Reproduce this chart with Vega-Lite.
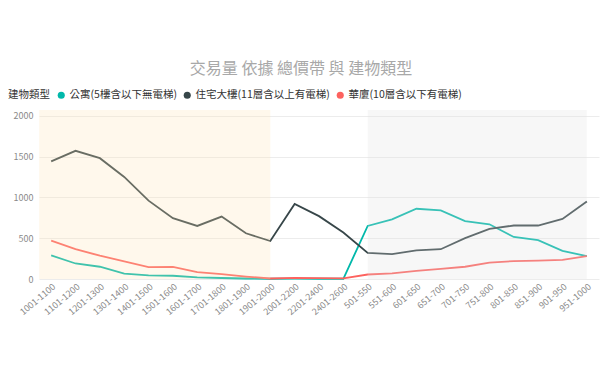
{
  "$schema": "https://vega.github.io/schema/vega-lite/v6.json",
  "autosize": {"type": "none"},
  "width": 560,
  "height": 169,
  "padding": {"left": 39, "top": 110, "right": 1, "bottom": 95},
  "background": "white",
  "title": {
    "text": "交易量 依據 總價帶 與 建物類型",
    "font": "Noto Sans CJK TC",
    "fontSize": 16,
    "fontWeight": "normal",
    "color": "#a8a8a8",
    "anchor": "middle",
    "dx": -18,
    "offset": 13
  },
  "config": {
    "view": {"stroke": null},
    "font": "Noto Sans CJK TC",
    "axis": {"labelFont": "Noto Sans CJK TC"},
    "legend": {"labelFont": "Noto Sans CJK TC", "titleFont": "Noto Sans CJK TC"}
  },
  "datasets": {
    "main": [
      {"p": "1001-1100", "t": "公寓(5樓含以下無電梯)", "v": 290},
      {"p": "1101-1200", "t": "公寓(5樓含以下無電梯)", "v": 190},
      {"p": "1201-1300", "t": "公寓(5樓含以下無電梯)", "v": 150},
      {"p": "1301-1400", "t": "公寓(5樓含以下無電梯)", "v": 65},
      {"p": "1401-1500", "t": "公寓(5樓含以下無電梯)", "v": 45},
      {"p": "1501-1600", "t": "公寓(5樓含以下無電梯)", "v": 40},
      {"p": "1601-1700", "t": "公寓(5樓含以下無電梯)", "v": 20},
      {"p": "1701-1800", "t": "公寓(5樓含以下無電梯)", "v": 12},
      {"p": "1801-1900", "t": "公寓(5樓含以下無電梯)", "v": 6},
      {"p": "1901-2000", "t": "公寓(5樓含以下無電梯)", "v": 3},
      {"p": "2001-2200", "t": "公寓(5樓含以下無電梯)", "v": 4},
      {"p": "2201-2400", "t": "公寓(5樓含以下無電梯)", "v": 3},
      {"p": "2401-2600", "t": "公寓(5樓含以下無電梯)", "v": 3},
      {"p": "501-550", "t": "公寓(5樓含以下無電梯)", "v": 650},
      {"p": "551-600", "t": "公寓(5樓含以下無電梯)", "v": 730},
      {"p": "601-650", "t": "公寓(5樓含以下無電梯)", "v": 860},
      {"p": "651-700", "t": "公寓(5樓含以下無電梯)", "v": 840},
      {"p": "701-750", "t": "公寓(5樓含以下無電梯)", "v": 710},
      {"p": "751-800", "t": "公寓(5樓含以下無電梯)", "v": 670},
      {"p": "801-850", "t": "公寓(5樓含以下無電梯)", "v": 515},
      {"p": "851-900", "t": "公寓(5樓含以下無電梯)", "v": 475},
      {"p": "901-950", "t": "公寓(5樓含以下無電梯)", "v": 345},
      {"p": "951-1000", "t": "公寓(5樓含以下無電梯)", "v": 280},
      {"p": "1001-1100", "t": "住宅大樓(11層含以上有電梯)", "v": 1440},
      {"p": "1101-1200", "t": "住宅大樓(11層含以上有電梯)", "v": 1570},
      {"p": "1201-1300", "t": "住宅大樓(11層含以上有電梯)", "v": 1480},
      {"p": "1301-1400", "t": "住宅大樓(11層含以上有電梯)", "v": 1250},
      {"p": "1401-1500", "t": "住宅大樓(11層含以上有電梯)", "v": 960},
      {"p": "1501-1600", "t": "住宅大樓(11層含以上有電梯)", "v": 745},
      {"p": "1601-1700", "t": "住宅大樓(11層含以上有電梯)", "v": 650},
      {"p": "1701-1800", "t": "住宅大樓(11層含以上有電梯)", "v": 765},
      {"p": "1801-1900", "t": "住宅大樓(11層含以上有電梯)", "v": 560},
      {"p": "1901-2000", "t": "住宅大樓(11層含以上有電梯)", "v": 465},
      {"p": "2001-2200", "t": "住宅大樓(11層含以上有電梯)", "v": 920},
      {"p": "2201-2400", "t": "住宅大樓(11層含以上有電梯)", "v": 770},
      {"p": "2401-2600", "t": "住宅大樓(11層含以上有電梯)", "v": 570},
      {"p": "501-550", "t": "住宅大樓(11層含以上有電梯)", "v": 320},
      {"p": "551-600", "t": "住宅大樓(11層含以上有電梯)", "v": 305},
      {"p": "601-650", "t": "住宅大樓(11層含以上有電梯)", "v": 350},
      {"p": "651-700", "t": "住宅大樓(11層含以上有電梯)", "v": 365},
      {"p": "701-750", "t": "住宅大樓(11層含以上有電梯)", "v": 500},
      {"p": "751-800", "t": "住宅大樓(11層含以上有電梯)", "v": 615},
      {"p": "801-850", "t": "住宅大樓(11層含以上有電梯)", "v": 655},
      {"p": "851-900", "t": "住宅大樓(11層含以上有電梯)", "v": 655},
      {"p": "901-950", "t": "住宅大樓(11層含以上有電梯)", "v": 735},
      {"p": "951-1000", "t": "住宅大樓(11層含以上有電梯)", "v": 950},
      {"p": "1001-1100", "t": "華廈(10層含以下有電梯)", "v": 470},
      {"p": "1101-1200", "t": "華廈(10層含以下有電梯)", "v": 365},
      {"p": "1201-1300", "t": "華廈(10層含以下有電梯)", "v": 285},
      {"p": "1301-1400", "t": "華廈(10層含以下有電梯)", "v": 215},
      {"p": "1401-1500", "t": "華廈(10層含以下有電梯)", "v": 145},
      {"p": "1501-1600", "t": "華廈(10層含以下有電梯)", "v": 148},
      {"p": "1601-1700", "t": "華廈(10層含以下有電梯)", "v": 85},
      {"p": "1701-1800", "t": "華廈(10層含以下有電梯)", "v": 60},
      {"p": "1801-1900", "t": "華廈(10層含以下有電梯)", "v": 30},
      {"p": "1901-2000", "t": "華廈(10層含以下有電梯)", "v": 6},
      {"p": "2001-2200", "t": "華廈(10層含以下有電梯)", "v": 14},
      {"p": "2201-2400", "t": "華廈(10層含以下有電梯)", "v": 10},
      {"p": "2401-2600", "t": "華廈(10層含以下有電梯)", "v": 8},
      {"p": "501-550", "t": "華廈(10層含以下有電梯)", "v": 55},
      {"p": "551-600", "t": "華廈(10層含以下有電梯)", "v": 70},
      {"p": "601-650", "t": "華廈(10層含以下有電梯)", "v": 100},
      {"p": "651-700", "t": "華廈(10層含以下有電梯)", "v": 125},
      {"p": "701-750", "t": "華廈(10層含以下有電梯)", "v": 150},
      {"p": "751-800", "t": "華廈(10層含以下有電梯)", "v": 200},
      {"p": "801-850", "t": "華廈(10層含以下有電梯)", "v": 220},
      {"p": "851-900", "t": "華廈(10層含以下有電梯)", "v": 225},
      {"p": "901-950", "t": "華廈(10層含以下有電梯)", "v": 235},
      {"p": "951-1000", "t": "華廈(10層含以下有電梯)", "v": 280}
    ],
    "bandY": [{"start": "1001-1100", "end": "1901-2000"}],
    "bandG": [{"start": "501-550", "end": "951-1000"}]
  },
  "layer": [
    {
      "data": {"name": "main"},
      "mark": {"type": "line", "strokeWidth": 1.8},
      "encoding": {
        "x": {
          "field": "p",
          "type": "nominal",
          "scale": {
            "type": "point",
            "padding": 0.5,
            "domain": ["1001-1100","1101-1200","1201-1300","1301-1400","1401-1500","1501-1600","1601-1700","1701-1800","1801-1900","1901-2000","2001-2200","2201-2400","2401-2600","501-550","551-600","601-650","651-700","701-750","751-800","801-850","851-900","901-950","951-1000"]
          },
          "axis": {
            "title": null,
            "labelAngle": -40,
            "labelFontSize": 9,
            "labelColor": "#8a8a8a",
            "ticks": false,
            "domain": false,
            "grid": false,
            "labelPadding": 3
          }
        },
        "y": {
          "field": "v",
          "type": "quantitative",
          "scale": {"domain": [0, 2070], "nice": false},
          "axis": {
            "title": null,
            "values": [0, 500, 1000, 1500, 2000],
            "format": "d",
            "labelFontSize": 9,
            "labelColor": "#8a8a8a",
            "ticks": false,
            "domain": false,
            "gridColor": "#ececec",
            "labelPadding": 6
          }
        },
        "color": {
          "field": "t",
          "type": "nominal",
          "scale": {
            "domain": ["公寓(5樓含以下無電梯)", "住宅大樓(11層含以上有電梯)", "華廈(10層含以下有電梯)"],
            "range": ["#01B8AA", "#374649", "#FD625E"]
          },
          "legend": {
            "title": "建物類型",
            "orient": "none",
            "legendX": -31,
            "legendY": -20,
            "direction": "horizontal",
            "gridAlign": "none",
            "titleOrient": "left",
            "titleFontSize": 10.5,
            "titleFontWeight": "normal",
            "titleColor": "#333333",
            "titlePadding": 6,
            "labelFontSize": 10.5,
            "labelColor": "#333333",
            "symbolType": "circle",
            "symbolSize": 50,
            "symbolStrokeWidth": 0,
            "labelOffset": 3,
            "columnPadding": 5,
            "encode": {
              "symbols": {"update": {"fill": {"scale": "color", "field": "value"}, "fillOpacity": {"value": 1}}}
            }
          }
        }
      }
    },
    {
      "data": {"name": "bandY"},
      "mark": {"type": "rect", "color": "#FFE3B3", "opacity": 0.25, "xOffset": -12},
      "encoding": {
        "x": {"field": "start", "type": "nominal"},
        "x2": {"field": "end"}
      }
    },
    {
      "data": {"name": "bandG"},
      "mark": {"type": "rect", "color": "#DFDFDF", "opacity": 0.25},
      "encoding": {
        "x": {"field": "start", "type": "nominal"},
        "x2": {"field": "end"}
      }
    }
  ]
}
